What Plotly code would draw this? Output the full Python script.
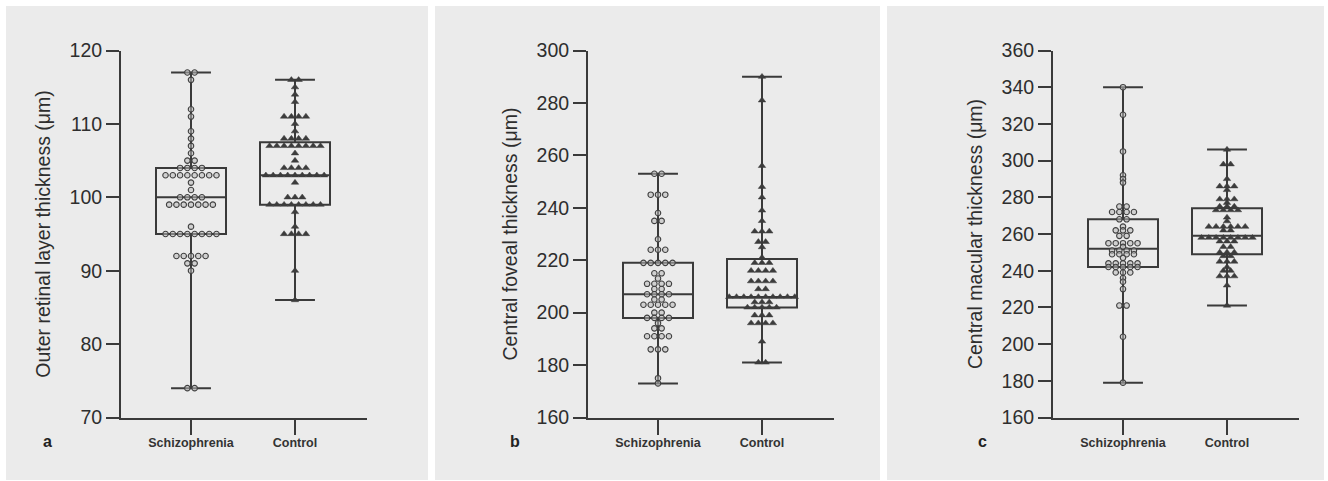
import plotly.graph_objects as go

W, H = 1328, 481
LINE = "#3a3a3a"
TXT = "#2e2e2e"
PANEL_BG = "#ebebeb"
FONT = "Liberation Sans, Arial, sans-serif"

categories = ["Schizophrenia", "Control"]

# ---------------- Panel a : outer retinal layer thickness ----------------
a_schizo_vals = [117, 116, 112, 111, 109, 108, 107, 106, 105, 104, 103, 102, 101, 100, 99, 96, 95, 92, 91, 90, 74]
a_schizo_cnts = [2, 1, 1, 1, 1, 1, 1, 1, 2, 4, 8, 1, 1, 4, 7, 1, 8, 5, 2, 1, 2]
a_control_vals = [116, 115, 114, 113, 111, 110, 109, 108, 107, 106, 105, 104, 103, 102, 100, 99, 98, 96, 95, 90, 86]
a_control_cnts = [2, 1, 1, 1, 4, 1, 1, 4, 8, 1, 1, 4, 9, 1, 3, 8, 1, 1, 4, 1, 1]
a_q1 = [95, 99]
a_median = [100, 103]
a_q3 = [104, 107.5]
a_min = [74, 86]
a_max = [117, 116]
a_ticks = [70, 80, 90, 100, 110, 120]

# ---------------- Panel b : central foveal thickness ----------------
b_schizo_vals = [253, 245, 238, 235, 228, 224, 219, 215, 213, 211, 209, 207, 205, 203, 200, 198, 196, 194, 191, 186, 175, 173]
b_schizo_cnts = [2, 3, 1, 2, 1, 3, 5, 2, 1, 4, 2, 4, 2, 5, 2, 4, 1, 2, 4, 3, 1, 1]
b_control_vals = [290, 281, 256, 248, 244, 239, 235, 231, 227, 225, 221, 219, 216, 212, 209, 206, 204, 202, 199, 196, 189, 181]
b_control_cnts = [1, 1, 1, 1, 1, 1, 1, 3, 2, 1, 1, 3, 4, 4, 2, 10, 3, 5, 3, 4, 1, 2]
b_q1 = [198, 202]
b_median = [207, 206]
b_q3 = [219, 220.5]
b_min = [173, 181]
b_max = [253, 290]
b_ticks = [160, 180, 200, 220, 240, 260, 280, 300]

# ---------------- Panel c : central macular thickness ----------------
c_schizo_vals = [340, 325, 305, 292, 290, 288, 275, 272, 268, 264, 262, 259, 255, 253, 251, 249, 247, 244, 242, 239, 236, 234, 230, 221, 204, 179]
c_schizo_cnts = [1, 1, 1, 1, 1, 1, 2, 4, 2, 1, 3, 2, 5, 1, 4, 4, 1, 5, 5, 3, 1, 1, 1, 2, 1, 1]
c_control_vals = [306, 298, 290, 286, 284, 279, 277, 275, 273, 269, 267, 264, 262, 258, 256, 253, 250, 248, 245, 242, 240, 237, 232, 221]
c_control_cnts = [1, 2, 1, 3, 1, 3, 1, 3, 4, 1, 1, 6, 2, 8, 3, 2, 3, 2, 3, 1, 2, 3, 1, 1]
c_q1 = [242, 249]
c_median = [252, 259]
c_q3 = [268, 274]
c_min = [179, 221]
c_max = [340, 306]
c_ticks = [160, 180, 200, 220, 240, 260, 280, 300, 320, 340, 360]

titles = ["Outer retinal layer thickness (μm)",
          "Central foveal thickness (μm)",
          "Central macular thickness (μm)"]
letters = ["a", "b", "c"]

panels = [
    dict(s=(a_schizo_vals, a_schizo_cnts), c=(a_control_vals, a_control_cnts),
         q1=a_q1, med=a_median, q3=a_q3, lo=a_min, hi=a_max, ticks=a_ticks),
    dict(s=(b_schizo_vals, b_schizo_cnts), c=(b_control_vals, b_control_cnts),
         q1=b_q1, med=b_median, q3=b_q3, lo=b_min, hi=b_max, ticks=b_ticks),
    dict(s=(c_schizo_vals, c_schizo_cnts), c=(c_control_vals, c_control_cnts),
         q1=c_q1, med=c_median, q3=c_q3, lo=c_min, hi=c_max, ticks=c_ticks),
]

# layout geometry (pixels)
panel_px = [(6, 428), (435, 880), (887, 1324)]
yaxis_px = [121, 588, 1053]
axis_len = 246
cat_offset = 70
cat_gap = 104
plot_top, plot_bottom = 50.5, 417.5
letter_x = [47, 515, 982]

x_lo = -cat_offset / cat_gap
x_hi = (axis_len - cat_offset) / cat_gap
STEP = 0.07  # horizontal spacing of dots in a row (x units)


def spread(vals, cnts, center):
    xs, ys = [], []
    for v, n in zip(vals, cnts):
        for i in range(n):
            xs.append(center + (i - (n - 1) / 2) * STEP)
            ys.append(v)
    return xs, ys


fig = go.Figure()
layout = dict(
    width=W, height=H, autosize=False,
    margin=dict(l=0, r=0, t=0, b=0, pad=0, autoexpand=False),
    paper_bgcolor="white",
    plot_bgcolor="rgba(0,0,0,0)",
    showlegend=False,
    font=dict(family=FONT, color=TXT),
    shapes=[], annotations=[],
)

for i, p in enumerate(panels):
    sfx = "" if i == 0 else str(i + 1)
    xa, ya = "x" + sfx, "y" + sfx
    # panel background
    layout["shapes"].append(dict(
        type="rect", xref="paper", yref="paper", layer="below",
        x0=panel_px[i][0] / W, x1=panel_px[i][1] / W,
        y0=1 - 480 / H, y1=1 - 6 / H,
        fillcolor=PANEL_BG, line=dict(width=0)))

    fig.add_trace(go.Box(
        x=[0, 1], q1=p["q1"], median=p["med"], q3=p["q3"],
        lowerfence=p["lo"], upperfence=p["hi"],
        width=0.673, whiskerwidth=0.57, boxpoints=False,
        line=dict(color=LINE, width=2), fillcolor="rgba(0,0,0,0)",
        hoverinfo="skip", xaxis=xa, yaxis=ya))

    sx, sy = spread(p["s"][0], p["s"][1], 0)
    fig.add_trace(go.Scatter(
        x=sx, y=sy, mode="markers", xaxis=xa, yaxis=ya, hoverinfo="skip",
        marker=dict(symbol="circle", size=5.5, color="rgba(185,185,185,0.55)",
                    line=dict(color="#404040", width=1.1))))
    cx, cy = spread(p["c"][0], p["c"][1], 1)
    fig.add_trace(go.Scatter(
        x=cx, y=cy, mode="markers", xaxis=xa, yaxis=ya, hoverinfo="skip",
        marker=dict(symbol="triangle-up", size=6.5, color="#3c3c3c",
                    line=dict(color="#3c3c3c", width=0.5))))

    x0 = yaxis_px[i]
    layout["xaxis" + sfx] = dict(
        domain=[x0 / W, (x0 + axis_len) / W], anchor=ya, automargin=False,
        range=[x_lo, x_hi], tickvals=[0, 1], ticktext=categories,
        showline=True, linecolor=LINE, linewidth=2,
        ticks="outside", ticklen=15, tickwidth=2, tickcolor=LINE,
        ticklabelstandoff=-3,
        tickfont=dict(size=12.5, family=FONT, color="#333333", weight="bold"),
        showgrid=False, zeroline=False, fixedrange=True)
    t = p["ticks"]
    layout["yaxis" + sfx] = dict(
        domain=[1 - plot_bottom / H, 1 - plot_top / H], anchor=xa, automargin=False,
        range=[t[0], t[-1]], tickvals=t,
        showline=True, linecolor=LINE, linewidth=2,
        ticks="outside", ticklen=13, tickwidth=2, tickcolor=LINE,
        tickfont=dict(size=19.5, family=FONT, color=TXT),
        title=dict(text=titles[i], font=dict(size=19.5, family=FONT, color=TXT), standoff=14),
        showgrid=False, zeroline=False, fixedrange=True)

    layout["annotations"].append(dict(
        text="<b>" + letters[i] + "</b>", xref="paper", yref="paper",
        x=letter_x[i] / W, y=1 - 441 / H, xanchor="center", yanchor="middle",
        showarrow=False, font=dict(size=16, family=FONT, color="#222222")))

fig.update_layout(**layout)
fig.write_html("out.html", config={"displayModeBar": False},
               post_script="document.body.style.margin='0';")
